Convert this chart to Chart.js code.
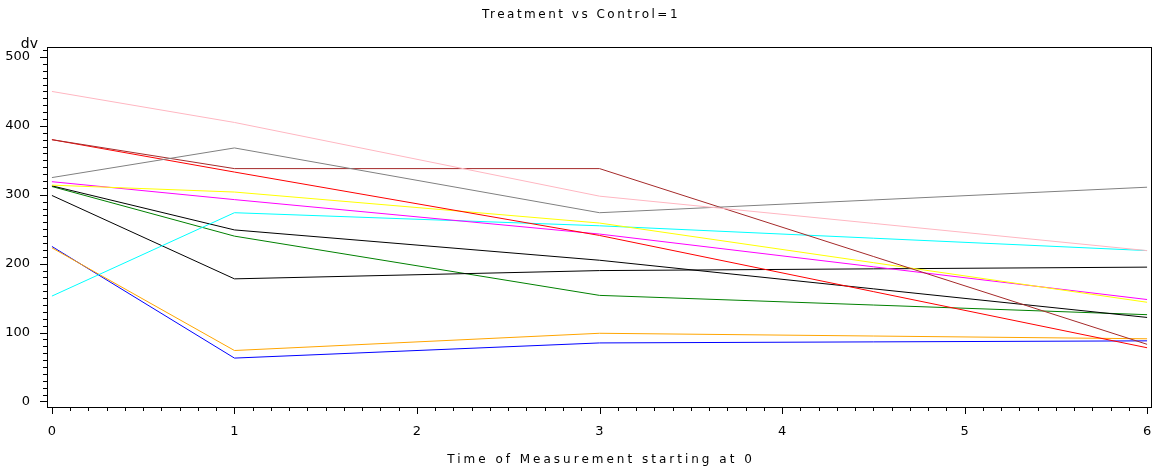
<!DOCTYPE html>
<html>
<head>
<meta charset="utf-8">
<script src="https://cdn.jsdelivr.net/npm/chart.js@4.4.1/dist/chart.umd.min.js"></script>
<style>
  html, body { margin: 0; padding: 0; background: #fff; overflow: hidden; }
  #wrap { width: 1156px; height: 468px; position: relative; }
</style>
</head>
<body>
<div id="wrap"><canvas id="myChart"></canvas></div>
<script>
// time points (x) and one array of dv values per subject
const times = [0, 1, 3, 6];
const xTicks = [0, 1, 2, 3, 4, 5, 6];
const yTicks = [0, 100, 200, 300, 400, 500];

const pinkValues    = [450, 405, 298, 219];
const brownValues   = [380, 338, 338, 83];
const redValues     = [380, 333, 241, 78];
const grayValues    = [325, 368, 274, 311];
const yellowValues  = [314, 304, 259, 144];
const magentaValues = [319, 293, 243, 148];
const cyanValues    = [153, 274, 255, 219];
const blackAValues  = [313, 249, 205, 122];
const blackBValues  = [299, 178, 190, 195];
const greenValues   = [312, 240, 154, 126];
const orangeValues  = [223, 74, 99, 91];
const blueValues    = [225, 63, 85, 88];

const labelFont = "'DejaVu Sans', 'Liberation Sans', sans-serif";

function makeLine(values, color){
    return {
        data: values.map((v, i) => ({x: times[i], y: v})),
        borderColor: color,
        borderWidth: 1,
        pointRadius: 0,
        fill: false,
        tension: 0
    };
}

// frame, minor/major ticks and the loose text bits (subtitle, "dv", x title)
const sasBits = {
    id: 'sasBits',
    afterDraw(chart){
        const ctx = chart.ctx;
        const area = chart.chartArea;
        const xs = chart.scales.x;
        const ys = chart.scales.y;
        ctx.save();
        ctx.strokeStyle = '#000';
        ctx.lineWidth = 1;
        ctx.strokeRect(area.left + 0.5, area.top + 0.5, area.right - area.left - 1, area.bottom - area.top);
        ctx.beginPath();
        for (let v = 0; v <= 60; v++){
            const px = Math.round(xs.getPixelForValue(v / 10)) + 0.5;
            const len = v % 10 == 0 ? 7 : 4;
            ctx.moveTo(px, area.bottom);
            ctx.lineTo(px, area.bottom + len);
        }
        for (let v = 0; v <= 510; v += 10){
            const py = Math.round(ys.getPixelForValue(v)) + 0.5;
            const len = v % 100 == 0 ? 7 : 4;
            ctx.moveTo(area.left, py);
            ctx.lineTo(area.left - len, py);
        }
        ctx.stroke();

        ctx.fillStyle = '#000';
        ctx.textAlign = 'center';
        ctx.textBaseline = 'middle';
        ctx.font = "12px " + labelFont;
        ctx.letterSpacing = '2.5px';
        ctx.fillText('Treatment vs Control=1', 581, 15);
        ctx.letterSpacing = '3px';
        ctx.fillText('Time of Measurement starting at 0', 601, 460);
        ctx.letterSpacing = '0px';
        ctx.font = "14px " + labelFont;
        ctx.textAlign = 'right';
        ctx.fillText('dv', 38, 44);
        ctx.restore();
    }
};

document.addEventListener("DOMContentLoaded", start);

function start(){
    const ctx = document.getElementById('myChart').getContext('2d');
    const myChart = new Chart(ctx, {
        type: 'line',
        data: {
            datasets: [
                makeLine(pinkValues, '#ffb6c1'),
                makeLine(grayValues, '#808080'),
                makeLine(brownValues, '#a52a2a'),
                makeLine(redValues, '#ff0000'),
                makeLine(yellowValues, '#ffff00'),
                makeLine(magentaValues, '#ff00ff'),
                makeLine(cyanValues, '#00ffff'),
                makeLine(blackAValues, '#000000'),
                makeLine(blackBValues, '#000000'),
                makeLine(greenValues, '#008000'),
                makeLine(orangeValues, '#ffa500'),
                makeLine(blueValues, '#0000ff')
            ]
        },
        options: {
            responsive: true,
            maintainAspectRatio: false,
            animation: false,
            layout: { padding: { top: 47, right: 4, left: 0, bottom: 0 } },
            plugins: {
                legend: { display: false },
                title: { display: false },
                tooltip: { enabled: false }
            },
            scales: {
                x: {
                    type: 'linear',
                    min: -0.027,
                    max: 6.027,
                    afterBuildTicks: (scale) => { scale.ticks = xTicks.map(v => ({value: v})); },
                    afterFit: (scale) => {
                        scale.height = 61;
                        scale.paddingLeft = 0;
                        scale.paddingRight = 0;
                    },
                    grid: { display: false },
                    border: { display: false },
                    ticks: {
                        padding: 9,
                        color: '#000',
                        font: { family: labelFont, size: 13 }
                    }
                },
                y: {
                    type: 'linear',
                    min: -8,
                    max: 514.5,
                    afterBuildTicks: (scale) => { scale.ticks = yTicks.map(v => ({value: v})); },
                    afterFit: (scale) => { scale.width = 47; },
                    grid: { display: false },
                    border: { display: false },
                    ticks: {
                        padding: 9,
                        color: '#000',
                        font: { family: labelFont, size: 13 }
                    }
                }
            }
        },
        plugins: [sasBits]
    });
}
</script>
</body>
</html>
